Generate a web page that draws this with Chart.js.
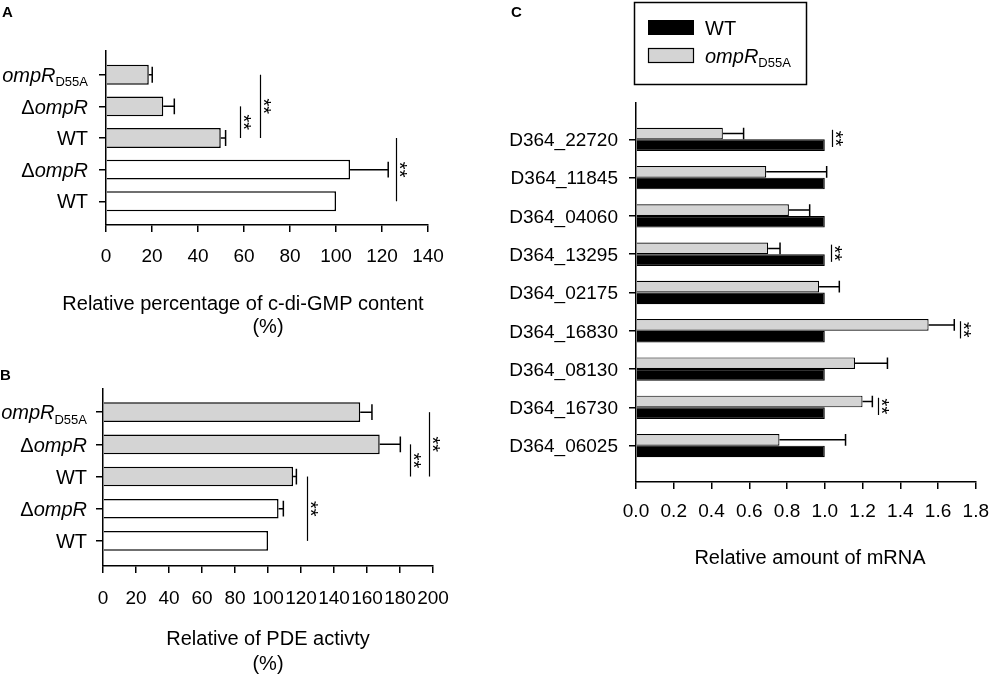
<!DOCTYPE html>
<html>
<head>
<meta charset="utf-8">
<script src="https://cdn.jsdelivr.net/npm/chart.js@4.4.1/dist/chart.umd.min.js"></script>
<style>
  body { margin: 0; background: #fff; }
  #lienzo { position: relative; width: 1000px; height: 679px; overflow: hidden; }
  .panel { position: absolute; }
  .letra { position: absolute; font: bold 15px 'Liberation Sans', Arial, sans-serif; line-height: 15px; color: #000; }
</style>
</head>
<body>
<div id="lienzo">
  <div class="panel" style="left:0;top:0;width:480px;height:340px"><canvas id="chartA"></canvas></div>
  <div class="panel" style="left:0;top:340px;width:480px;height:339px"><canvas id="chartB"></canvas></div>
  <div class="panel" style="left:480px;top:0;width:520px;height:679px"><canvas id="chartC"></canvas></div>
  <div class="letra" style="left:2px;top:4px">A</div>
  <div class="letra" style="left:0;top:367px">B</div>
  <div class="letra" style="left:511px;top:4px">C</div>
</div>
<script>
// ----------------------------------------------------------
// DATA
// Panels A and B: strains top to bottom (gray = first three,
// white = last two). Panel C: genes, WT vs ompR D55A.
// ----------------------------------------------------------
const strainsAB = ['<i>ompR</i><sub>D55A</sub>', 'Δ<i>ompR</i>', 'WT', 'Δ<i>ompR</i>', 'WT'];

const valuesA = [18.6, 24.9, 49.9, 106.1, 100];
const errorsA = [1.5, 4.8, 2.1, 16.6, 0];
const ticksA  = [0, 20, 40, 60, 80, 100, 120, 140];

const valuesB = [155.9, 167.7, 115.2, 106.4, 100];
const errorsB = [7.1, 12.5, 2.0, 2.9, 0];
const ticksB  = [0, 20, 40, 60, 80, 100, 120, 140, 160, 180, 200];

const genesC   = ['D364_22720', 'D364_11845', 'D364_04060', 'D364_13295', 'D364_02175',
                  'D364_16830', 'D364_08130', 'D364_16730', 'D364_06025'];
const wtC      = [1, 1, 1, 1, 1, 1, 1, 1, 1];
const mutantC  = [0.46, 0.69, 0.81, 0.70, 0.97, 1.55, 1.16, 1.20, 0.76];
const mutErrC  = [0.11, 0.32, 0.11, 0.063, 0.107, 0.136, 0.172, 0.052, 0.35];
const ticksC   = [0, 0.2, 0.4, 0.6, 0.8, 1.0, 1.2, 1.4, 1.6, 1.8];
const seriesC  = ['WT', '<i>ompR</i><sub>D55A</sub>'];

// significance marks (** ): x value of the line and the rows it joins
const signifA = [{ at: 58.3, from: 1, to: 2 }, { at: 66.8, from: 0, to: 2 }, { at: 126.1, from: 2, to: 4 }];
const signifB = [{ at: 123.4, from: 2, to: 4 }, { at: 186, from: 1, to: 2 }, { at: 197.8, from: 0, to: 2 }];
const signifC = [{ at: 1.04, row: 0 }, { at: 1.034, row: 3 }, { at: 1.714, row: 5 }, { at: 1.283, row: 7 }];

// ----------------------------------------------------------
// STYLE
// ----------------------------------------------------------
const FAMILIA = "'Liberation Sans', Arial, sans-serif";
const gris   = '#d4d4d4';
const blanco = '#ffffff';
const negro  = '#000000';
const rellenoAB = [gris, gris, gris, blanco, blanco];

Chart.defaults.font.family = FAMILIA;
Chart.defaults.font.size = 19;
Chart.defaults.color = negro;
Chart.defaults.animation = false;

// ----------------------------------------------------------
// helpers: rich text (italic / subscript) on the canvas
// ----------------------------------------------------------
function partesTexto(markup) {
    return markup.split(/(<i>.*?<\/i>|<sub>.*?<\/sub>)/).filter(Boolean).map(p => {
        if (p.startsWith('<i>')) return { t: p.slice(3, -4), i: true };
        if (p.startsWith('<sub>')) return { t: p.slice(5, -6), sub: true };
        return { t: p };
    });
}

function textoRico(ctx, markup, x, yMid, size, align) {
    const partes = partesTexto(markup);
    const fuente = p => (p.i ? 'italic ' : '') + (p.sub ? Math.round(size * 0.67) : size) + 'px ' + FAMILIA;
    let total = 0;
    partes.forEach(p => { ctx.font = fuente(p); p.w = ctx.measureText(p.t).width; total += p.w; });
    let cx = align === 'right' ? x - total : x;
    const base = yMid + size * 0.36;
    ctx.save();
    ctx.fillStyle = negro;
    ctx.textAlign = 'left';
    ctx.textBaseline = 'alphabetic';
    partes.forEach(p => {
        ctx.font = fuente(p);
        ctx.fillText(p.t, cx, p.sub ? base + size * 0.22 : base);
        cx += p.w;
    });
    ctx.restore();
}

// category labels on the left of the y axis
function etiquetasY(labels, gap, size) {
    return {
        id: 'etiquetasY',
        afterDraw(chart) {
            const ys = chart.scales.y;
            labels.forEach((lab, i) => {
                textoRico(chart.ctx, lab, chart.chartArea.left - gap, ys.getPixelForValue(i), size, 'right');
            });
        }
    };
}

// one-sided error bars (mean + SD) with a cap
function barrasError(capRatio) {
    return {
        id: 'barrasError',
        afterDatasetsDraw(chart) {
            const ctx = chart.ctx;
            const xs = chart.scales.x;
            chart.data.datasets.forEach((ds, d) => {
                if (!ds.err) return;
                chart.getDatasetMeta(d).data.forEach((bar, i) => {
                    const e = ds.err[i];
                    if (!e) return;
                    const xEnd = xs.getPixelForValue(ds.data[i].x + e);
                    const half = bar.height * capRatio / 2;
                    ctx.save();
                    ctx.strokeStyle = negro;
                    ctx.lineWidth = 1.5;
                    ctx.beginPath();
                    ctx.moveTo(bar.x, bar.y);
                    ctx.lineTo(xEnd, bar.y);
                    ctx.moveTo(xEnd, bar.y - half);
                    ctx.lineTo(xEnd, bar.y + half);
                    ctx.stroke();
                    ctx.restore();
                });
            });
        }
    };
}

// vertical line + rotated "**"
function significancia(marks) {
    return {
        id: 'significancia',
        afterDraw(chart) {
            const ctx = chart.ctx;
            const xs = chart.scales.x, ys = chart.scales.y;
            marks.forEach(m => {
                const from = m.row !== undefined ? m.row - 0.25 : m.from;
                const to   = m.row !== undefined ? m.row + 0.2 : m.to;
                const x  = Math.round(xs.getPixelForValue(m.at)) + 0.5;
                const y1 = ys.getPixelForValue(from), y2 = ys.getPixelForValue(to);
                ctx.save();
                ctx.strokeStyle = negro;
                ctx.lineWidth = 1.2;
                ctx.beginPath();
                ctx.moveTo(x, y1);
                ctx.lineTo(x, y2);
                ctx.stroke();
                // stars, turned 90 degrees, just right of the line
                ctx.font = '20px ' + FAMILIA;
                ctx.fillStyle = negro;
                ctx.textAlign = 'center';
                ctx.textBaseline = 'alphabetic';
                const mt = ctx.measureText('**');
                const mid = (mt.actualBoundingBoxAscent - mt.actualBoundingBoxDescent) / 2;
                ctx.translate(x + 6.5 - mid, (y1 + y2) / 2);
                ctx.rotate(Math.PI / 2);
                ctx.fillText('**', 0, 0);
                ctx.restore();
            });
        }
    };
}

// axis title lines, each centred on its own x
function tituloEje(lines) {
    return {
        id: 'tituloEje',
        afterDraw(chart) {
            const ctx = chart.ctx;
            ctx.save();
            ctx.font = '20px ' + FAMILIA;
            ctx.fillStyle = negro;
            ctx.textAlign = 'center';
            ctx.textBaseline = 'alphabetic';
            lines.forEach(l => ctx.fillText(l.text, l.cx, l.y));
            ctx.restore();
        }
    };
}

// shared scale setup: linear row axis so the outer margins match
function escalas(ticksX, fmt, rows, yWidth, xHeight, tickPad) {
    const eje = { display: true, color: negro, width: 1.5 };
    const rejilla = { drawOnChartArea: false, drawTicks: true, tickLength: 7, color: negro, lineWidth: 1.5, offset: false };
    return {
        x: {
            type: 'linear',
            min: ticksX[0],
            max: ticksX[ticksX.length - 1],
            border: eje,
            grid: rejilla,
            afterBuildTicks: s => { s.ticks = ticksX.map(v => ({ value: v })); },
            afterFit: s => { s.height = xHeight; },
            ticks: {
                autoSkip: false, maxRotation: 0, minRotation: 0, padding: tickPad,
                font: { size: 19 }, color: negro,
                callback: fmt
            }
        },
        y: {
            type: 'linear',
            reverse: true,
            offset: false,
            min: rows.min,
            max: rows.max,
            border: eje,
            grid: rejilla,
            afterBuildTicks: s => { s.ticks = rows.list.map((_, i) => ({ value: i })); },
            afterFit: s => { s.width = yWidth; },
            ticks: { display: false }
        }
    };
}


// ----------------------------------------------------------
// PANEL A: relative c-di-GMP content
// ----------------------------------------------------------
new Chart(document.getElementById('chartA'), {
    type: 'bar',
    data: {
        datasets: [{
            data: valuesA.map((v, i) => ({ x: v, y: i })),
            err: errorsA,
            backgroundColor: rellenoAB,
            borderColor: negro,
            borderWidth: 1.5,
            categoryPercentage: 1,
            barPercentage: 0.63
        }]
    },
    options: {
        indexAxis: 'y',
        responsive: true,
        maintainAspectRatio: false,
        layout: { padding: { left: 0, top: 51, right: 52, bottom: 0 } },
        scales: escalas(ticksA, v => String(v), { min: -0.75, max: 4.75, list: strainsAB }, 106, 115, 13),
        plugins: { legend: { display: false }, tooltip: { enabled: false } }
    },
    plugins: [
        etiquetasY(strainsAB, 18, 20),
        barrasError(0.8),
        significancia(signifA),
        tituloEje([
            { text: 'Relative percentage of c-di-GMP content', cx: 243, y: 310 },
            { text: '(%)', cx: 268, y: 333 }
        ])
    ]
});


// ----------------------------------------------------------
// PANEL B: relative PDE activity
// ----------------------------------------------------------
new Chart(document.getElementById('chartB'), {
    type: 'bar',
    data: {
        datasets: [{
            data: valuesB.map((v, i) => ({ x: v, y: i })),
            err: errorsB,
            backgroundColor: rellenoAB,
            borderColor: negro,
            borderWidth: 1.5,
            categoryPercentage: 1,
            barPercentage: 0.61
        }]
    },
    options: {
        indexAxis: 'y',
        responsive: true,
        maintainAspectRatio: false,
        layout: { padding: { left: 0, top: 49, right: 47, bottom: 0 } },
        scales: escalas(ticksB, v => String(v), { min: -0.72, max: 4.78, list: strainsAB }, 103, 113, 14),
        plugins: { legend: { display: false }, tooltip: { enabled: false } }
    },
    plugins: [
        etiquetasY(strainsAB, 16, 20),
        barrasError(0.8),
        significancia(signifB),
        tituloEje([
            { text: 'Relative of PDE activty', cx: 268, y: 305 },
            { text: '(%)', cx: 268, y: 330 }
        ])
    ]
});


// ----------------------------------------------------------
// PANEL C: relative mRNA, grouped bars (gray above black)
// legend drawn by hand because of the italic/subscript name
// ----------------------------------------------------------
const leyendaC = {
    id: 'leyendaC',
    afterDraw(chart) {
        const ctx = chart.ctx;
        ctx.save();
        ctx.strokeStyle = negro;
        ctx.lineWidth = 1.5;
        ctx.strokeRect(154.5, 2.5, 172, 82);
        ctx.fillStyle = negro;
        ctx.fillRect(168, 20, 46, 15);
        ctx.fillStyle = gris;
        ctx.fillRect(168, 48, 46, 15);
        ctx.lineWidth = 1.2;
        ctx.strokeRect(168.5, 48.5, 45, 14);
        ctx.restore();
        textoRico(ctx, seriesC[0], 225, 27.5, 20, 'left');
        textoRico(ctx, seriesC[1], 225, 55.5, 20, 'left');
    }
};

new Chart(document.getElementById('chartC'), {
    type: 'bar',
    data: {
        datasets: [{
            label: 'ompR D55A',
            data: mutantC.map((v, i) => ({ x: v, y: i })),
            err: mutErrC,
            backgroundColor: gris,
            borderColor: negro,
            borderWidth: 1.2,
            categoryPercentage: 0.61,
            barPercentage: 1
        }, {
            label: 'WT',
            data: wtC.map((v, i) => ({ x: v, y: i })),
            backgroundColor: negro,
            borderColor: negro,
            borderWidth: 1.2,
            categoryPercentage: 0.61,
            barPercentage: 1
        }]
    },
    options: {
        indexAxis: 'y',
        responsive: true,
        maintainAspectRatio: false,
        layout: { padding: { left: 0, top: 103, right: 16, bottom: 0 } },
        scales: escalas(ticksC, v => v.toFixed(1), { min: -0.95, max: 8.95, list: genesC }, 156, 197, 11),
        plugins: { legend: { display: false }, tooltip: { enabled: false } }
    },
    plugins: [
        etiquetasY(genesC, 18, 19),
        barrasError(1.0),
        significancia(signifC),
        tituloEje([{ text: 'Relative amount of mRNA', cx: 330, y: 564 }]),
        leyendaC
    ]
});
</script>
</body>
</html>
